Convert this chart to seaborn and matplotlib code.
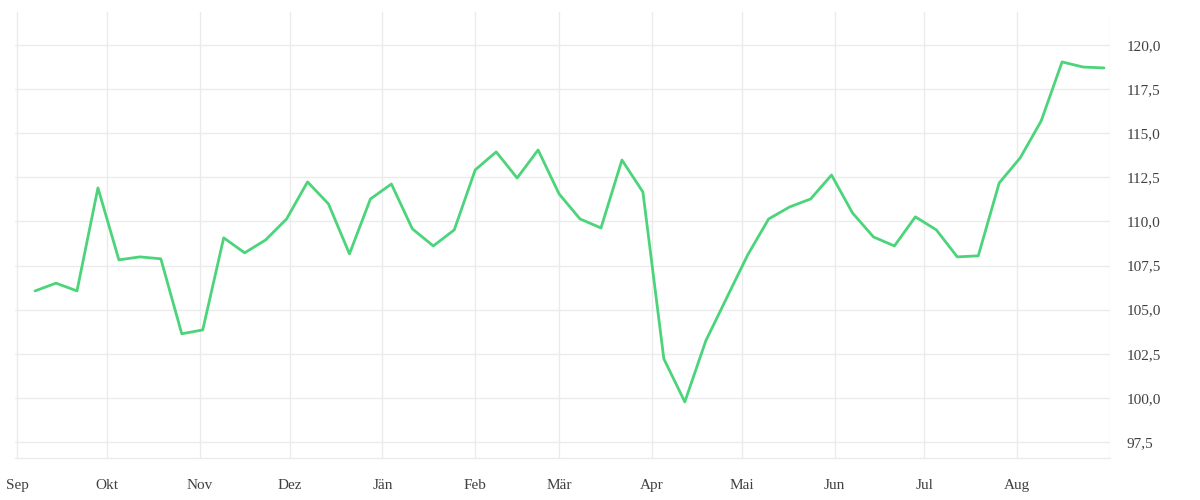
import matplotlib
matplotlib.use("Agg")
import matplotlib.pyplot as plt
import matplotlib.dates as mdates
import seaborn as sns
import pandas as pd
import numpy as np

# ---- data ----
start_date = "2022-09-07"
values = [106.06, 106.5, 106.06, 111.9, 107.82, 107.99, 107.88, 103.63, 103.85, 109.07,
          108.22, 108.95, 110.14, 112.24, 110.99, 108.16, 111.27, 112.12, 109.58, 108.61,
          109.52, 112.92, 113.94, 112.46, 114.05, 111.56, 110.14, 109.63, 113.48, 111.67,
          102.21, 99.77, 103.23, 105.67, 108.1, 110.14, 110.82, 111.27, 112.63, 110.48,
          109.12, 108.61, 110.26, 109.52, 107.99, 108.05, 112.18, 113.6, 115.69, 119.04,
          118.75, 118.7]
month_labels = ["Sep", "Okt", "Nov", "Dez", "Jän", "Feb", "Mär", "Apr", "Mai", "Jun", "Jul", "Aug", ""]
y_ticks = [97.5, 100.0, 102.5, 105.0, 107.5, 110.0, 112.5, 115.0, 117.5, 120.0]

dates = pd.date_range(start=start_date, periods=len(values), freq="7D")
df = pd.DataFrame({"date": dates, "value": values})

sns.set_theme(style="white")
plt.rcParams["font.family"] = ["Liberation Serif", "DejaVu Serif"]

fig = plt.figure(figsize=(12, 5), dpi=100)
ax = fig.add_axes([15 / 1200, 1 - 458 / 500, (1110 - 15) / 1200, (458 - 12) / 500])

grid_c = "#ebebeb"
sns.lineplot(data=df, x="date", y="value", ax=ax, color="#4cd47b", linewidth=2.0, zorder=3)

month_starts = pd.date_range("2022-09-01", "2023-09-01", freq="MS")
ax.set_xlim(pd.Timestamp("2022-09-01") - pd.Timedelta(days=0.7), pd.Timestamp("2023-09-01"))
ax.set_ylim(96.59, 121.87)

ax.xaxis.set_major_locator(matplotlib.ticker.FixedLocator(mdates.date2num(month_starts)))
ax.xaxis.set_major_formatter(matplotlib.ticker.FixedFormatter(month_labels))
ax.set_yticks(y_ticks)
ax.set_yticklabels([f"{v:.1f}".replace(".", ",") for v in y_ticks])

ax.yaxis.tick_right()
ax.tick_params(axis="y", length=0, pad=12, labelsize=11, labelcolor="#404040")
ax.tick_params(axis="x", length=10, width=1, color=grid_c, pad=5, labelsize=11, labelcolor="#404040")

ax.grid(True, color=grid_c, linewidth=1)
ax.set_axisbelow(True)
for s in ["top", "left", "right"]:
    ax.spines[s].set_visible(False)
ax.spines["bottom"].set_color(grid_c)
ax.spines["bottom"].set_linewidth(1)
ax.set_xlabel("")
ax.set_ylabel("")

fig.savefig("out.png", dpi=100, facecolor="white")
